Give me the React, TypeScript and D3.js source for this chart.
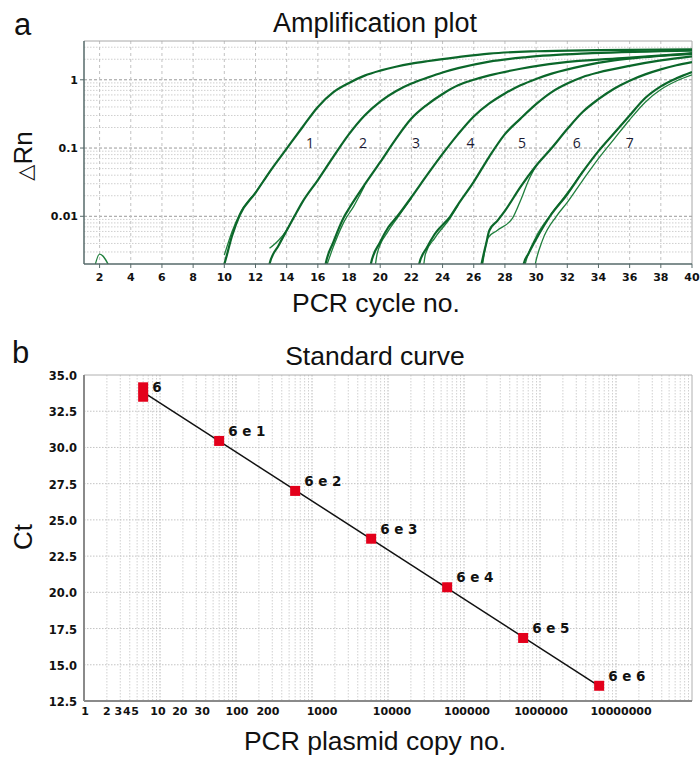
import React, { useRef, useEffect } from 'react';
import * as d3 from 'd3';

// ---- panel a: amplification curves, [cycle, ΔRn] ----
const curve1 = [[9.8, 0.0015], [10, 0.002], [10.5, 0.0052], [11, 0.0105], [12, 0.022], [13, 0.048], [14, 0.098], [15, 0.2], [16, 0.4], [17, 0.66], [18, 0.9], [19, 1.15], [20, 1.36], [21, 1.55], [22, 1.72], [23, 1.87], [25, 2.15], [27, 2.42], [30, 2.62], [34, 2.72], [40, 2.78]];
const curve1b = [[10, 0.0027], [10.5, 0.006], [11, 0.011], [12, 0.0225], [13, 0.048]];
const curve2 = [[12.8, 0.0015], [12.9, 0.002], [13.5, 0.0038], [14, 0.0062], [14.5, 0.01], [15, 0.016], [16, 0.034], [17, 0.075], [18, 0.16], [19, 0.3], [20, 0.48], [21, 0.68], [22, 0.88], [23, 1.07], [24, 1.28], [25, 1.48], [27, 1.85], [29.4, 2.15], [33.6, 2.45], [40, 2.68]];
const curve2b = [[12.9, 0.0034], [13.5, 0.0045], [14, 0.0063], [14.5, 0.0102]];
const curve3 = [[16.4, 0.0015], [16.5, 0.002], [17, 0.0042], [17.7, 0.01], [18, 0.013], [19, 0.029], [20, 0.062], [21, 0.135], [22, 0.27], [23, 0.43], [24, 0.62], [25, 0.83], [26, 1.0], [27, 1.16], [29, 1.45], [31.5, 1.77], [35.8, 2.1], [40, 2.45]];
const curve3b = [[16.6, 0.002], [17, 0.0036], [17.7, 0.0085], [18.3, 0.014], [19, 0.028]];
const curve4 = [[19.3, 0.0015], [19.4, 0.002], [20, 0.0042], [20.5, 0.0068], [21.1, 0.01], [22, 0.019], [23, 0.04], [24, 0.082], [25, 0.16], [26, 0.29], [27, 0.45], [28, 0.63], [29, 0.83], [30, 1.03], [31, 1.23], [33, 1.6], [35, 1.92], [37, 2.15], [40, 2.4]];
const curve4b = [[19.7, 0.002], [19.8, 0.0028], [20.5, 0.006], [21.1, 0.0095], [22, 0.0185]];
const curve5 = [[22.4, 0.0015], [22.5, 0.002], [23, 0.0035], [23.5, 0.0055], [24.5, 0.01], [25, 0.015], [26, 0.032], [27, 0.075], [28, 0.16], [29, 0.27], [30, 0.44], [31, 0.66], [32, 0.88], [33, 1.1], [34, 1.28], [36, 1.6], [38, 1.92], [40, 2.2]];
const curve5b = [[22.8, 0.002], [22.9, 0.0028], [23.5, 0.0048], [24.5, 0.0095], [25, 0.0145]];
const curve6 = [[26.4, 0.0015], [26.5, 0.002], [26.8, 0.004], [27, 0.0062], [27.5, 0.0085], [28, 0.012], [29, 0.027], [30, 0.055], [31, 0.1], [32, 0.19], [33, 0.34], [34, 0.52], [35, 0.74], [36, 0.97], [37, 1.2], [38, 1.42], [39, 1.63], [40, 1.82]];
const curve6b = [[26.5, 0.0015], [26.9, 0.0048], [27.5, 0.0062], [28.5, 0.0095], [29, 0.017], [29.5, 0.033], [30, 0.055]];
const curve7a = [[29.1, 0.0015], [29.2, 0.002], [29.5, 0.0028], [30, 0.0046], [30.9, 0.0101], [32, 0.021], [33, 0.045], [34, 0.09], [35, 0.165], [36, 0.3], [37, 0.54], [38, 0.8], [39, 1.05], [40, 1.3]];
const curve7b = [[29.85, 0.0015], [29.95, 0.002], [30.4, 0.0044], [31.3, 0.01], [32, 0.016], [33, 0.034], [34, 0.07], [35, 0.135], [36, 0.26], [37, 0.47], [38, 0.72], [39, 0.96], [40, 1.18]];
const curve7c = [[29.3, 0.002], [29.4, 0.0024], [30, 0.005], [31, 0.011], [32, 0.022], [33, 0.046]];
const noiseBlip = [[1.6, 0.0015], [2, 0.0028], [2.8, 0.0015]];

const mainCurves = [curve1, curve2, curve3, curve4, curve5, curve6, curve7a];
const replicateCurves = [curve1b, curve2b, curve3b, curve4b, curve5b, curve6b, curve7b, curve7c, noiseBlip];

// cycle where each dilution crosses ΔRn = 0.1 (the 1..7 tags sit just right of it)
const dilutionNames = ['1', '2', '3', '4', '5', '6', '7'];
const crossCycles = [13.9, 17.3, 20.7, 24.2, 27.5, 31.0, 34.4];

const cycleTicks = [2, 4, 6, 8, 10, 12, 14, 16, 18, 20, 22, 24, 26, 28, 30, 32, 34, 36, 38, 40];
const rnTicks = [0.01, 0.1, 1];

// ---- panel b: standard curve ----
const copies = [6, 6, 60, 600, 6000, 60000, 600000, 6000000];
const ctValues = [34.15, 33.5, 30.45, 27.0, 23.7, 20.35, 16.85, 13.55];
const pointNames = ['', '6', '6 e 1', '6 e 2', '6 e 3', '6 e 4', '6 e 5', '6 e 6'];

const copyTicks = [1, 2, 3, 4, 5, 10, 20, 30, 100, 200, 1000, 10000, 100000, 1000000, 10000000];
const ctTicks = [12.5, 15, 17.5, 20, 22.5, 25, 27.5, 30, 32.5, 35];

const TITLE_FONT = '"Liberation Sans", Arial, sans-serif';
const TICK_FONT = '"DejaVu Sans", Verdana, sans-serif';

// the original software spreads crowded log labels a little
const copyLabelNudge = { 1: 1, 3: -2, 4: -3, 5: -2, 10: -2, 20: -3, 30: 6, 100: 1, 200: 9, 1000: 10, 10000: 4, 100000: 3, 1000000: 1, 10000000: 5 };

const isDecade = (v) => Math.abs(Math.log10(v) - Math.round(Math.log10(v))) < 1e-9;

const App = () => {
  const ref = useRef(null);

  useEffect(() => {
    document.body.style.margin = '0';
    const svg = d3.select(ref.current);
    svg.selectAll('*').remove();

    svg.append('rect').attr('width', 700).attr('height', 757).attr('fill', '#fff');

    // ================= panel a =================
    const A = { left: 84, right: 692, top: 41, bottom: 264 };
    const xA = d3.scaleLinear().domain([1, 40]).range([A.left, A.right]);
    const yA = d3.scaleLog().domain([0.002, 3.7]).range([A.bottom, A.top]);

    const a = svg.append('g');

    // horizontal log grid
    const hVals = [];
    for (let e = -3; e <= 0; e++) {
      for (let m = 1; m <= 9; m++) {
        const v = m * Math.pow(10, e);
        if (v > 0.002 && v < 3.7) hVals.push(v);
      }
    }
    a.selectAll('line.hg')
      .data(hVals)
      .join('line')
      .attr('class', 'hg')
      .attr('x1', A.left).attr('x2', A.right)
      .attr('y1', d => yA(d)).attr('y2', d => yA(d))
      .attr('stroke', d => isDecade(d) ? '#9a9a9a' : '#cfcfcf')
      .attr('stroke-width', 1)
      .attr('stroke-dasharray', d => isDecade(d) ? '3,2' : '1.5,1.5');

    // vertical grid at even cycles
    a.selectAll('line.vg')
      .data(cycleTicks.filter(c => c < 40))
      .join('line')
      .attr('class', 'vg')
      .attr('x1', d => xA(d)).attr('x2', d => xA(d))
      .attr('y1', A.top).attr('y2', A.bottom)
      .attr('stroke', '#c2c2c2')
      .attr('stroke-dasharray', '3,3');

    // frame
    a.append('line').attr('x1', A.left).attr('x2', A.right).attr('y1', A.top).attr('y2', A.top).attr('stroke', '#a8a8a8');
    a.append('line').attr('x1', A.right).attr('x2', A.right).attr('y1', A.top).attr('y2', A.bottom).attr('stroke', '#a8a8a8');

    // curves
    a.append('clipPath').attr('id', 'clipA')
      .append('rect').attr('x', A.left).attr('y', A.top)
      .attr('width', A.right - A.left).attr('height', A.bottom - A.top);

    const lineA = d3.line()
      .x(d => xA(d[0]))
      .y(d => yA(d[1]))
      .curve(d3.curveMonotoneX);

    const curves = a.append('g').attr('clip-path', 'url(#clipA)');
    curves.selectAll('path.rep')
      .data(replicateCurves)
      .join('path')
      .attr('class', 'rep')
      .attr('d', lineA)
      .attr('fill', 'none')
      .attr('stroke', '#1f7f3c')
      .attr('stroke-width', 1.3);
    curves.selectAll('path.main')
      .data(mainCurves)
      .join('path')
      .attr('class', 'main')
      .attr('d', lineA)
      .attr('fill', 'none')
      .attr('stroke', '#0b672a')
      .attr('stroke-width', 2.2);

    // dilution tags
    a.selectAll('text.tag')
      .data(dilutionNames)
      .join('text')
      .attr('class', 'tag')
      .attr('x', (d, i) => xA(crossCycles[i] + 1.6))
      .attr('y', yA(0.1))
      .attr('text-anchor', 'middle')
      .attr('font-family', '"Open Sans", sans-serif')
      .attr('font-size', 14)
      .attr('fill', '#1a1a33')
      .text(d => d);

    // axes lines
    a.append('line').attr('x1', A.left).attr('x2', A.left).attr('y1', A.top).attr('y2', A.bottom).attr('stroke', '#566a6a').attr('stroke-width', 1.5);
    a.append('line').attr('x1', A.left).attr('x2', A.right).attr('y1', A.bottom).attr('y2', A.bottom).attr('stroke', '#566a6a').attr('stroke-width', 1.5);

    // y ticks
    a.selectAll('line.yt').data(rnTicks).join('line')
      .attr('class', 'yt')
      .attr('x1', A.left - 4).attr('x2', A.left)
      .attr('y1', d => yA(d)).attr('y2', d => yA(d))
      .attr('stroke', '#566a6a');
    a.selectAll('text.yl').data(rnTicks).join('text')
      .attr('class', 'yl')
      .attr('x', A.left - 6)
      .attr('y', d => yA(d) + 4)
      .attr('text-anchor', 'end')
      .attr('font-family', TICK_FONT)
      .attr('font-weight', 'bold')
      .attr('font-size', 11)
      .attr('fill', '#111')
      .text(d => String(d));

    // x ticks
    a.selectAll('line.xt').data(cycleTicks).join('line')
      .attr('class', 'xt')
      .attr('x1', d => xA(d)).attr('x2', d => xA(d))
      .attr('y1', A.bottom).attr('y2', A.bottom + 4)
      .attr('stroke', '#566a6a');
    a.selectAll('text.xl').data(cycleTicks).join('text')
      .attr('class', 'xl')
      .attr('x', d => xA(d))
      .attr('y', 281)
      .attr('text-anchor', 'middle')
      .attr('font-family', TICK_FONT)
      .attr('font-weight', 'bold')
      .attr('font-size', 11)
      .attr('fill', '#111')
      .text(d => String(d));

    // titles
    a.append('text').attr('x', 375).attr('y', 32).attr('text-anchor', 'middle')
      .attr('font-family', TITLE_FONT).attr('font-size', 27).attr('fill', '#111')
      .text('Amplification plot');
    a.append('text').attr('x', 376).attr('y', 312).attr('text-anchor', 'middle')
      .attr('font-family', TITLE_FONT).attr('font-size', 26.5).attr('fill', '#111')
      .text('PCR cycle no.');
    const yTitle = a.append('text').attr('transform', 'translate(32,156) rotate(-90)').attr('text-anchor', 'middle')
      .attr('font-family', TITLE_FONT).attr('font-size', 26).attr('fill', '#111');
    yTitle.append('tspan').attr('font-family', '"DejaVu Sans", sans-serif').attr('font-size', 21).text('\u25B3');
    yTitle.append('tspan').text('Rn');
    a.append('text').attr('x', 14).attr('y', 35)
      .attr('font-family', TITLE_FONT).attr('font-size', 31).attr('fill', '#111')
      .text('a');

    // ================= panel b =================
    const B = { left: 84, right: 692, top: 375, bottom: 701 };
    const xB = d3.scaleLog().domain([1, 1e8]).range([B.left, B.right]);
    const yB = d3.scaleLinear().domain([12.5, 35]).range([B.bottom, B.top]);

    const b = svg.append('g');

    const vVals = [];
    for (let e = 0; e <= 7; e++) {
      for (let m = 1; m <= 9; m++) {
        const v = m * Math.pow(10, e);
        if (v > 1) vVals.push(v);
      }
    }
    b.selectAll('line.vg')
      .data(vVals)
      .join('line')
      .attr('class', 'vg')
      .attr('x1', d => xB(d)).attr('x2', d => xB(d))
      .attr('y1', B.top).attr('y2', B.bottom)
      .attr('stroke', d => isDecade(d) ? '#b8b8b8' : '#d0d0d0')
      .attr('stroke-dasharray', '1.5,1.5');

    b.selectAll('line.hg')
      .data(ctTicks.filter(t => t > 12.5 && t < 35))
      .join('line')
      .attr('class', 'hg')
      .attr('x1', B.left).attr('x2', B.right)
      .attr('y1', d => yB(d)).attr('y2', d => yB(d))
      .attr('stroke', '#c4c4c4')
      .attr('stroke-dasharray', '1.5,1.5');

    b.append('line').attr('x1', B.left).attr('x2', B.right).attr('y1', B.top).attr('y2', B.top).attr('stroke', '#b0b0b0');
    b.append('line').attr('x1', B.right).attr('x2', B.right).attr('y1', B.top).attr('y2', B.bottom).attr('stroke', '#b0b0b0');
    b.append('line').attr('x1', B.left).attr('x2', B.left).attr('y1', B.top).attr('y2', B.bottom).attr('stroke', '#8a8a8a').attr('stroke-width', 2);
    b.append('line').attr('x1', B.left).attr('x2', B.right).attr('y1', B.bottom).attr('y2', B.bottom).attr('stroke', '#8a8a8a').attr('stroke-width', 2);

    // least-squares fit of Ct on log10(copies)
    const lx = copies.map(c => Math.log10(c));
    const mx = d3.mean(lx);
    const my = d3.mean(ctValues);
    const slope = d3.sum(lx, (v, i) => (v - mx) * (ctValues[i] - my)) / d3.sum(lx, v => (v - mx) * (v - mx));
    const icpt = my - slope * mx;
    const cMin = d3.min(copies);
    const cMax = d3.max(copies);
    b.append('line')
      .attr('x1', xB(cMin)).attr('y1', yB(icpt + slope * Math.log10(cMin)))
      .attr('x2', xB(cMax)).attr('y2', yB(icpt + slope * Math.log10(cMax)))
      .attr('stroke', '#111')
      .attr('stroke-width', 1.5);

    const pts = copies.map((c, i) => ({ c, ct: ctValues[i], name: pointNames[i] }));
    b.selectAll('rect.pt')
      .data(pts)
      .join('rect')
      .attr('class', 'pt')
      .attr('x', d => xB(d.c) - 5)
      .attr('y', d => yB(d.ct) - 5)
      .attr('width', 10)
      .attr('height', 10)
      .attr('fill', '#e3001b');

    b.selectAll('text.pl')
      .data(pts.filter(p => p.name))
      .join('text')
      .attr('class', 'pl')
      .attr('x', d => xB(d.c) + 9)
      .attr('y', d => yB(d.ct) - 5)
      .attr('font-family', TICK_FONT)
      .attr('font-weight', 'bold')
      .attr('font-size', 13.5)
      .attr('fill', '#111')
      .text(d => d.name);

    b.selectAll('text.yl').data(ctTicks).join('text')
      .attr('class', 'yl')
      .attr('x', B.left - 7)
      .attr('y', d => yB(d) + 5)
      .attr('text-anchor', 'end')
      .attr('font-family', TICK_FONT)
      .attr('font-weight', 'bold')
      .attr('font-size', 11.5)
      .attr('fill', '#111')
      .text(d => d.toFixed(1));

    b.selectAll('text.xl').data(copyTicks).join('text')
      .attr('class', 'xl')
      .attr('x', d => xB(d) + (copyLabelNudge[d] || 0))
      .attr('y', 715)
      .attr('text-anchor', 'middle')
      .attr('font-family', TICK_FONT)
      .attr('font-weight', 'bold')
      .attr('font-size', 11)
      .attr('fill', '#111')
      .text(d => String(d));

    b.append('text').attr('x', 375).attr('y', 365).attr('text-anchor', 'middle')
      .attr('font-family', TITLE_FONT).attr('font-size', 26.5).attr('fill', '#111')
      .text('Standard curve');
    b.append('text').attr('x', 375).attr('y', 750).attr('text-anchor', 'middle')
      .attr('font-family', TITLE_FONT).attr('font-size', 26.5).attr('fill', '#111')
      .text('PCR plasmid copy no.');
    b.append('text').attr('transform', 'translate(32,537) rotate(-90)').attr('text-anchor', 'middle')
      .attr('font-family', TITLE_FONT).attr('font-size', 26).attr('fill', '#111')
      .text('Ct');
    b.append('text').attr('x', 12).attr('y', 363)
      .attr('font-family', TITLE_FONT).attr('font-size', 31).attr('fill', '#111')
      .text('b');
  }, []);

  return <svg ref={ref} width={700} height={757} style={{ display: 'block' }} />;
};

export default App;
